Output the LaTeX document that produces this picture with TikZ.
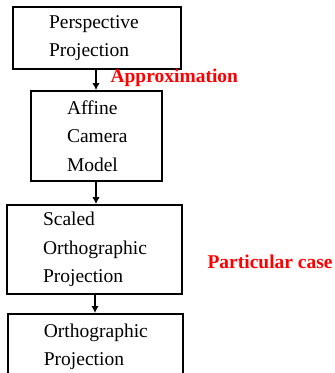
\documentclass[tikz,border=0pt]{standalone}
\usepackage{fontspec}
\setmainfont{Liberation Serif}
\usetikzlibrary{arrows.meta}
\begin{document}
\begin{tikzpicture}[x=1pt, y=-1pt,
        stage/.style={draw, line width=1.8pt, inner xsep=36pt, inner ysep=0pt, align=left,
            font=\fontsize{19.5pt}{28.5pt}\selectfont},
        note/.style={anchor=west, text=red, font=\fontsize{19.5pt}{24pt}\selectfont\bfseries},
        step arrow/.style={line width=1.5pt, -{Latex[length=7pt, width=7.5pt]}}]
        \clip (0, 0) rectangle (335, 373);

        \node[stage, text width=96pt, minimum width=168pt, minimum height=62pt] (persp) at (97, 38) {
            Perspective\\
            Projection
        };
        \node[stage, text width=59pt, minimum width=131pt, minimum height=90pt] (affine) at (96.5, 136) {
            Affine\\
            Camera\\
            Model
        };
        \node[stage, text width=103pt, minimum width=175pt, minimum height=89pt] (scaled) at (94.5, 249.5) {
            Scaled\\
            Orthographic\\
            Projection
        };
        \node[stage, text width=103pt, minimum width=175pt, minimum height=66pt, anchor=north west] (ortho) at (7, 313) {
            Orthographic\\
            Projection
        };

        \node[note] (approx) at (107, 78) {Approximation};
        \node[note] (partcase) at (204, 262) {Particular case};

        \draw[step arrow]
            (persp.south -| 96, 0) -- (affine.north -| 96, 0);
        \draw[step arrow]
            (affine.south -| 96, 0) -- (scaled.north -| 96, 0);
        \draw[step arrow]
            (scaled.south -| 95, 0) -- (ortho.north -| 95, 0);
    \end{tikzpicture}
\end{document}
